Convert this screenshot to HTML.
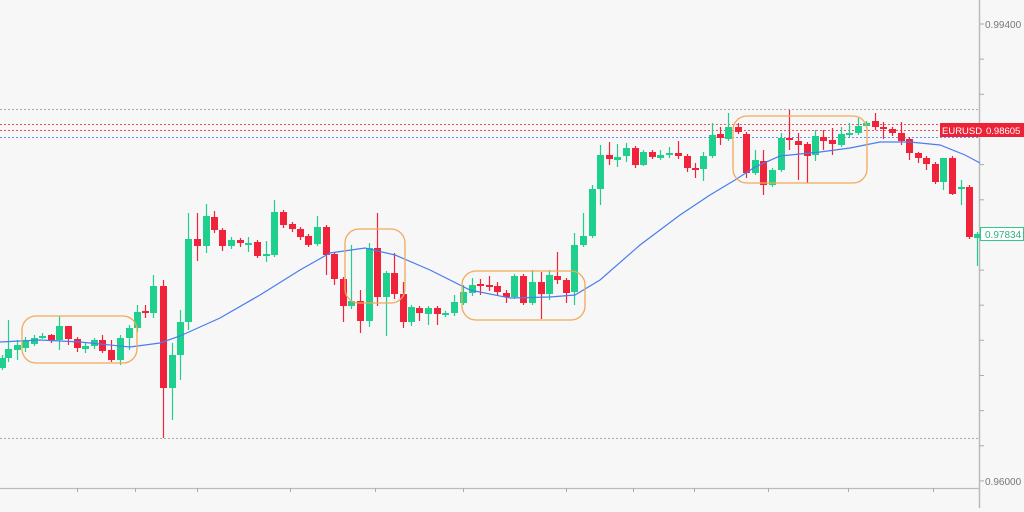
<!DOCTYPE html>
<html><head><meta charset="utf-8"><style>
html,body{margin:0;padding:0;background:#f7f7f7;width:1024px;height:512px;overflow:hidden}
svg{display:block}
text{font-family:"Liberation Sans",sans-serif}
</style></head><body>
<svg id="s" width="1024" height="512" viewBox="0 0 1024 512" xmlns="http://www.w3.org/2000/svg">
<rect width="1024" height="512" fill="#f7f7f7"/>
<line x1="0" y1="109.5" x2="979" y2="109.5" stroke="#aaa" stroke-dasharray="2,2"/>
<line x1="0" y1="124.5" x2="979" y2="124.5" stroke="#f05060" stroke-dasharray="2,2"/>
<line x1="0" y1="130.5" x2="979" y2="130.5" stroke="#f05060" stroke-dasharray="2,2"/>
<line x1="0" y1="137.5" x2="979" y2="137.5" stroke="#6a8ff0" stroke-dasharray="2,2"/>
<line x1="0" y1="438.5" x2="979" y2="438.5" stroke="#aaa" stroke-dasharray="2,2"/>
<line x1="979.5" y1="0" x2="979.5" y2="508" stroke="#bbb" stroke-width="1.5"/>
<line x1="0" y1="488.5" x2="979" y2="488.5" stroke="#bbb" stroke-width="1.2"/>
<g id="ticks" stroke="#aaa"></g>
<g id="c"></g>
<polyline fill="none" stroke="#4a7cf0" stroke-width="1.2" points="0,342 40,340 80,342 130,347 160,343 180,336 220,318 260,295 300,270 330,253 365,248 395,255 430,270 470,290 510,298 550,297 575,295 600,280 640,245 680,215 710,195 735,180 755,167 780,156 820,152 850,148 880,142 910,142 940,145 965,155 980,163"/>
<g fill="none" stroke="#f2a95a" stroke-width="1.3">
<rect x="22" y="316" width="115" height="47" rx="14"/>
<rect x="345" y="229" width="60" height="74" rx="14"/>
<rect x="462" y="271" width="123" height="49" rx="14"/>
<rect x="733" y="116" width="134" height="67" rx="14"/>
</g>
<text x="985" y="28" font-size="10" fill="#777">0.99400</text>
<text x="985" y="485" font-size="10" fill="#777">0.96000</text>
<rect x="940" y="123" width="84" height="14" fill="#ee2236"/>
<text x="942" y="134" font-size="9.5" fill="#fff">EURUSD</text>
<text x="986" y="134" font-size="9.5" fill="#fff">0.98605</text>
<rect x="980.5" y="227.5" width="43" height="13" fill="#fff" stroke="#30c890"/>
<text x="985" y="238" font-size="10" fill="#30b080">0.97834</text>
</svg>
<script>
var G="#1fcf8d",R="#f1233b";
var d=[[2,358,368,355,370,G],[8,349,358,320,362,G],[17,345,350,340,360,G],[25,340,348,337,352,G],[34,338,344,335,346,G],[42,336,337,333,339,G],[51,335,341,334,343,R],[59,326,340,316,350,G],[68,326,339,326,345,R],[77,339,348,337,352,R],[85,346,349,342,353,G],[94,340,346,338,349,G],[102,340,351,335,353,R],[111,350,360,340,362,R],[120,338,360,335,365,G],[129,328,338,325,350,G],[137,312,328,305,332,G],[145,311,312,305,318,R],[153,286,313,275,318,G],[163,286,388,280,438,R],[172,355,388,343,420,G],[180,322,355,310,380,G],[188,239,322,213,330,G],[197,239,246,213,261,R],[206,216,246,204,253,G],[214,217,230,211,233,R],[222,230,246,228,251,R],[231,240,246,237,249,G],[240,240,243,238,247,R],[248,243,244,237,252,G],[257,242,256,240,258,R],[266,254,255,241,262,G],[274,212,255,200,257,G],[283,212,225,210,228,R],[292,224,229,222,232,R],[300,229,237,227,240,R],[308,236,245,234,247,R],[317,227,244,216,246,G],[326,227,255,225,275,R],[334,254,279,252,285,R],[343,279,306,277,322,R],[351,301,306,245,309,G],[360,301,321,290,333,R],[369,248,321,243,327,G],[377,248,297,213,306,R],[386,273,297,271,336,G],[394,273,294,253,299,R],[403,294,322,282,328,R],[411,307,322,305,326,G],[419,308,313,306,321,R],[428,308,314,306,325,G],[437,308,314,306,325,R],[445,313,314,311,317,G],[454,302,313,295,316,G],[463,292,303,285,305,G],[472,285,293,278,296,G],[480,284,286,279,295,R],[489,285,287,276,291,R],[497,286,292,282,295,R],[506,293,297,290,303,R],[514,276,297,274,299,G],[523,276,303,274,305,R],[532,282,303,270,305,G],[541,282,294,272,319,R],[549,275,294,270,300,G],[557,276,280,252,284,R],[566,280,293,278,303,R],[574,245,292,233,305,G],[583,236,245,213,247,G],[592,189,236,185,238,G],[600,155,189,145,205,G],[609,155,159,142,165,R],[617,157,160,144,167,G],[626,148,156,143,162,G],[635,148,165,146,168,R],[643,152,165,150,166,G],[652,152,157,150,159,R],[660,155,158,150,160,G],[669,153,155,147,158,G],[678,153,156,141,159,R],[687,156,168,154,172,R],[695,168,170,163,178,R],[703,156,169,152,181,G],[712,135,156,123,158,G],[720,134,138,127,145,R],[728,127,139,113,141,G],[738,127,132,123,134,R],[746,134,173,132,178,R],[755,160,173,150,175,G],[763,161,185,150,195,R],[772,170,185,168,187,G],[781,138,170,133,172,G],[789,138,140,110,150,R],[798,141,145,133,180,R],[807,144,156,142,183,R],[815,136,155,130,161,G],[823,137,141,130,150,R],[832,140,144,128,155,R],[841,134,145,127,147,G],[849,133,135,123,137,G],[858,126,133,118,135,G],[866,123,126,121,128,G],[875,121,127,113,130,R],[883,127,129,122,139,R],[892,129,133,127,136,R],[901,133,141,122,145,R],[909,139,153,137,160,R],[918,153,158,152,163,R],[926,158,164,156,170,R],[935,164,182,162,184,R],[943,158,182,158,190,G],[952,158,194,156,195,R],[961,187,189,180,205,G],[969,187,237,185,239,R],[977,234,238,232,266,G]];
var s="";d.forEach(function(c){var x=c[0],h=Math.max(2,c[2]-c[1]);s+='<line x1="'+x+'.5" x2="'+x+'.5" y1="'+c[3]+'" y2="'+c[4]+'" stroke="'+c[5]+'" stroke-width="1.2"/>';s+='<rect x="'+(x-3)+'" y="'+c[1]+'" width="7" height="'+h+'" fill="'+c[5]+'"/>';});
document.getElementById("c").innerHTML=s;
var t="";[77,135,197,290,375,463,566,633,694,768,848,933].forEach(function(x){t+='<line x1="'+x+'.5" x2="'+x+'.5" y1="488" y2="492"/>';});
for(var y=24;y<=481;y+=35.15){t+='<line x1="980" x2="984" y1="'+y.toFixed(1)+'" y2="'+y.toFixed(1)+'"/>';}
document.getElementById("ticks").innerHTML=t;
</script>
</body></html>
